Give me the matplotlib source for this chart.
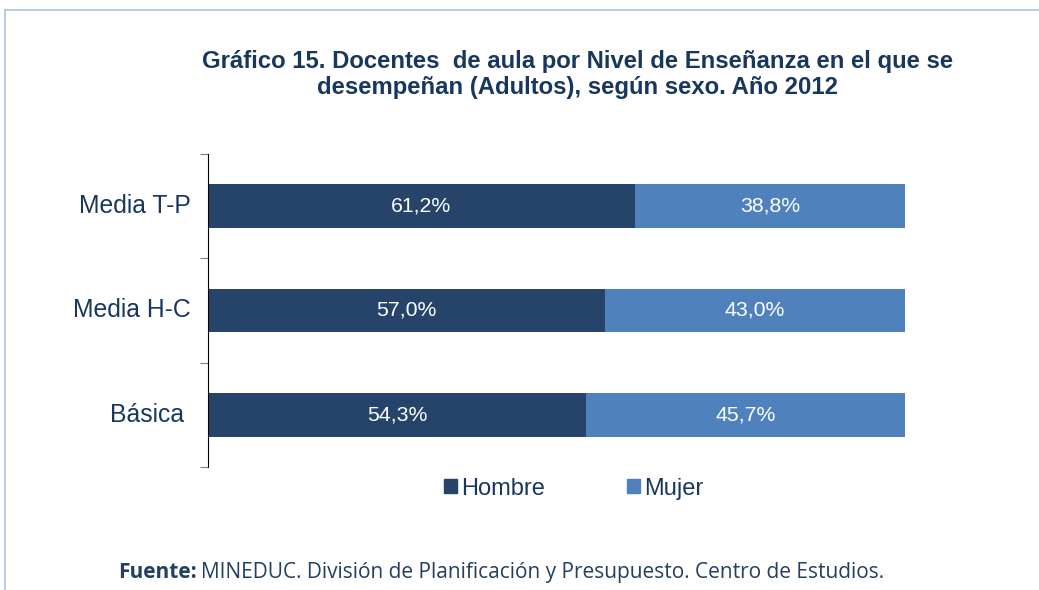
import numpy as np
import matplotlib.pyplot as plt
from matplotlib.patches import Patch

plt.rcParams['font.family'] = 'Liberation Sans'

niveles = ['Básica ', 'Media H-C', 'Media T-P']
hombre = [54.3, 57.0, 61.2]
mujer = [45.7, 43.0, 38.8]

c_hombre = '#26446a'
c_mujer = '#4f81bd'
c_texto = '#17375e'

fig = plt.figure(figsize=(10.39, 5.90), dpi=100)
ax = fig.add_axes([0.2002, 0.2085, 0.6708, 0.5305])

y = np.arange(len(niveles))
b1 = ax.barh(y, hombre, height=0.42, color=c_hombre)
b2 = ax.barh(y, mujer, left=hombre, height=0.42, color=c_mujer)

for i in range(len(niveles)):
    ax.text(hombre[i] / 2, y[i], ('%.1f%%' % hombre[i]).replace('.', ','),
            color='white', ha='center', va='center', fontsize=15.3)
    ax.text(hombre[i] + mujer[i] / 2, y[i], ('%.1f%%' % mujer[i]).replace('.', ','),
            color='white', ha='center', va='center', fontsize=15.3)

ax.set_xlim(0, 100)
ax.set_ylim(-0.5, 2.5)
for s in ['top', 'right', 'bottom']:
    ax.spines[s].set_visible(False)
ax.spines['left'].set_color('black')
ax.set_xticks([])
ax.set_yticks([-0.5, 0.5, 1.5, 2.5])
ax.set_yticklabels([])
ax.tick_params(axis='y', length=6, color='#7f7f7f')
for i, n in enumerate(niveles):
    ax.text(-0.025, y[i], n, transform=ax.get_yaxis_transform(),
            ha='right', va='center', fontsize=17.8, color=c_texto)

fig.text(0.556, 0.874, 'Gráfico 15. Docentes  de aula por Nivel de Enseñanza en el que se\n'
         'desempeñan (Adultos), según sexo. Año 2012',
         ha='center', va='center', fontsize=17.2, fontweight='bold',
         color=c_texto, linespacing=1.15)

fig.legend([Patch(color=c_hombre), Patch(color=c_mujer)], ['Hombre', 'Mujer'],
           loc='center', bbox_to_anchor=(0.552, 0.172), ncol=2, frameon=False,
           fontsize=17, handlelength=0.55, handleheight=0.55, handletextpad=0.15,
           columnspacing=3.5, labelcolor=c_texto)

t1 = fig.text(0.1136, 0.03, 'Fuente:', fontsize=15, fontweight='bold',
              family='Open Sans', color='#243f60', ha='left', va='center')
fig.canvas.draw()
bb = t1.get_window_extent()
fig.text(bb.x1 / fig.bbox.width + 0.004, 0.03,
         'MINEDUC. División de Planificación y Presupuesto. Centro de Estudios.',
         fontsize=15, family='Open Sans', color='#243f60', ha='left', va='center')

# marco azul claro
fig.add_artist(plt.Line2D([0.005, 1.0], [0.983, 0.983], transform=fig.transFigure,
                          color='#a7c3e5', lw=1.2))
fig.add_artist(plt.Line2D([0.005, 0.005], [0.0, 0.983], transform=fig.transFigure,
                          color='#a7c3e5', lw=1.2))

fig.savefig('out.png', dpi=100)
